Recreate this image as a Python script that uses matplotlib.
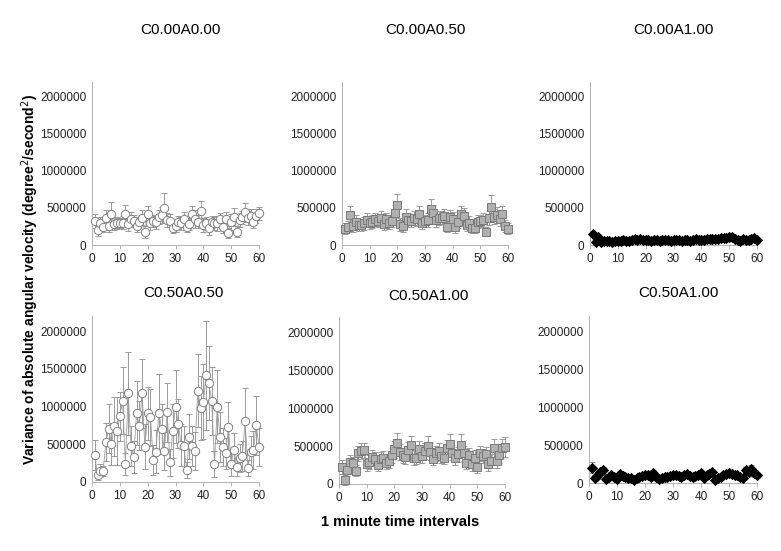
import numpy as np
import matplotlib
matplotlib.use("Agg")
from matplotlib import pyplot as plt

plt.rcParams['font.family'] = ['Liberation Sans', 'DejaVu Sans']

# === DATA ===
MINUTES = list(range(1, 61))

TITLES = ["C0.00A0.00", "C0.00A0.50", "C0.00A1.00",
          "C0.50A0.50", "C0.50A1.00", "C0.50A1.00"]

c00a00 = [324e3, 203e3, 293e3, 248e3, 369e3, 261e3, 419e3, 284e3, 293e3, 293e3,
          302e3, 414e3, 284e3, 347e3, 329e3, 261e3, 306e3, 369e3, 176e3, 414e3,
          293e3, 329e3, 306e3, 383e3, 405e3, 495e3, 338e3, 329e3, 234e3, 261e3,
          306e3, 293e3, 347e3, 248e3, 279e3, 414e3, 347e3, 315e3, 464e3, 270e3,
          293e3, 225e3, 315e3, 293e3, 293e3, 347e3, 248e3, 351e3, 158e3, 315e3,
          383e3, 180e3, 338e3, 374e3, 441e3, 360e3, 392e3, 315e3, 392e3, 428e3]
c00a00_err = [95e3, 80e3, 90e3, 70e3, 110e3, 85e3, 166e3, 75e3, 80e3, 70e3,
              85e3, 126e3, 90e3, 95e3, 80e3, 85e3, 70e3, 100e3, 75e3, 110e3,
              90e3, 80e3, 85e3, 95e3, 110e3, 203e3, 90e3, 85e3, 75e3, 80e3,
              90e3, 85e3, 100e3, 75e3, 80e3, 110e3, 120e3, 90e3, 130e3, 95e3,
              85e3, 90e3, 80e3, 85e3, 100e3, 90e3, 80e3, 100e3, 70e3, 110e3,
              120e3, 70e3, 95e3, 90e3, 131e3, 95e3, 100e3, 90e3, 95e3, 85e3]

c00a05 = [221e3, 248e3, 403e3, 257e3, 314e3, 265e3, 265e3, 292e3, 336e3, 301e3,
          314e3, 345e3, 323e3, 358e3, 279e3, 345e3, 301e3, 323e3, 434e3, 544e3,
          279e3, 257e3, 376e3, 336e3, 323e3, 367e3, 345e3, 420e3, 292e3, 323e3,
          336e3, 487e3, 434e3, 332e3, 367e3, 367e3, 389e3, 248e3, 381e3, 354e3,
          243e3, 314e3, 420e3, 389e3, 265e3, 301e3, 235e3, 226e3, 314e3, 323e3,
          336e3, 181e3, 367e3, 509e3, 381e3, 403e3, 354e3, 412e3, 257e3, 221e3]
c00a05_err = [70e3, 75e3, 130e3, 80e3, 90e3, 75e3, 80e3, 85e3, 95e3, 80e3,
              85e3, 90e3, 80e3, 95e3, 75e3, 90e3, 85e3, 80e3, 110e3, 150e3,
              85e3, 75e3, 110e3, 90e3, 85e3, 95e3, 90e3, 110e3, 80e3, 85e3,
              90e3, 130e3, 100e3, 85e3, 95e3, 90e3, 100e3, 75e3, 95e3, 90e3,
              80e3, 85e3, 100e3, 110e3, 80e3, 85e3, 75e3, 70e3, 85e3, 80e3,
              90e3, 65e3, 95e3, 160e3, 100e3, 110e3, 95e3, 110e3, 80e3, 70e3]

c00a10 = [144e3, 45e3, 113e3, 45e3, 55e3, 50e3, 60e3, 45e3, 55e3, 60e3,
          55e3, 65e3, 55e3, 60e3, 65e3, 75e3, 70e3, 81e3, 70e3, 65e3,
          70e3, 60e3, 65e3, 70e3, 60e3, 65e3, 70e3, 65e3, 60e3, 65e3,
          70e3, 65e3, 60e3, 70e3, 65e3, 60e3, 70e3, 75e3, 70e3, 65e3,
          70e3, 75e3, 80e3, 85e3, 75e3, 80e3, 90e3, 95e3, 100e3, 113e3,
          105e3, 85e3, 70e3, 60e3, 75e3, 70e3, 65e3, 80e3, 90e3, 68e3]
c00a10_err = [35e3, 20e3, 30e3, 15e3, 18e3, 15e3, 18e3, 15e3, 18e3, 20e3,
              18e3, 20e3, 18e3, 20e3, 20e3, 22e3, 20e3, 25e3, 20e3, 20e3,
              22e3, 18e3, 20e3, 22e3, 18e3, 20e3, 22e3, 20e3, 18e3, 20e3,
              22e3, 20e3, 18e3, 22e3, 20e3, 18e3, 22e3, 24e3, 22e3, 20e3,
              22e3, 24e3, 25e3, 28e3, 24e3, 25e3, 28e3, 30e3, 32e3, 40e3,
              35e3, 28e3, 22e3, 20e3, 24e3, 22e3, 20e3, 25e3, 28e3, 22e3]

c05a05 = [357e3, 87e3, 152e3, 143e3, 530e3, 709e3, 500e3, 739e3, 674e3, 870e3,
          1078e3, 239e3, 1174e3, 478e3, 335e3, 913e3, 748e3, 1174e3, 470e3, 913e3,
          857e3, 296e3, 404e3, 913e3, 704e3, 413e3, 922e3, 261e3, 674e3, 1000e3,
          774e3, 491e3, 478e3, 161e3, 600e3, 478e3, 413e3, 1209e3, 983e3, 1065e3,
          1413e3, 1313e3, 1074e3, 239e3, 1000e3, 600e3, 465e3, 378e3, 726e3, 239e3,
          422e3, 204e3, 317e3, 348e3, 804e3, 187e3, 391e3, 422e3, 752e3, 465e3]
c05a05_err = [200e3, 60e3, 80e3, 70e3, 250e3, 320e3, 280e3, 390e3, 450e3, 325e3,
              440e3, 150e3, 550e3, 260e3, 210e3, 420e3, 330e3, 460e3, 300e3, 350e3,
              380e3, 200e3, 280e3, 520e3, 330e3, 250e3, 390e3, 180e3, 360e3, 485e3,
              330e3, 280e3, 260e3, 110e3, 300e3, 260e3, 250e3, 485e3, 420e3, 500e3,
              725e3, 490e3, 455e3, 170e3, 480e3, 330e3, 250e3, 200e3, 330e3, 160e3,
              230e3, 120e3, 190e3, 200e3, 440e3, 110e3, 220e3, 250e3, 390e3, 250e3]

c05a10 = [226e3, 52e3, 183e3, 296e3, 274e3, 174e3, 404e3, 435e3, 443e3, 261e3,
          291e3, 357e3, 335e3, 252e3, 326e3, 339e3, 283e3, 304e3, 378e3, 457e3,
          535e3, 422e3, 378e3, 357e3, 443e3, 517e3, 348e3, 348e3, 457e3, 370e3,
          435e3, 500e3, 426e3, 335e3, 404e3, 435e3, 370e3, 348e3, 470e3, 522e3,
          413e3, 339e3, 391e3, 513e3, 404e3, 283e3, 378e3, 261e3, 348e3, 230e3,
          404e3, 370e3, 391e3, 261e3, 304e3, 478e3, 304e3, 383e3, 478e3, 487e3]
c05a10_err = [90e3, 60e3, 80e3, 90e3, 85e3, 70e3, 100e3, 110e3, 100e3, 85e3,
              90e3, 95e3, 90e3, 80e3, 95e3, 100e3, 85e3, 90e3, 95e3, 110e3,
              140e3, 100e3, 95e3, 90e3, 110e3, 120e3, 95e3, 90e3, 110e3, 95e3,
              105e3, 130e3, 110e3, 90e3, 100e3, 110e3, 95e3, 90e3, 110e3, 140e3,
              100e3, 90e3, 95e3, 150e3, 100e3, 85e3, 100e3, 85e3, 95e3, 80e3,
              100e3, 95e3, 100e3, 85e3, 90e3, 120e3, 90e3, 100e3, 120e3, 130e3]

c05a10b = [200e3, 70e3, 91e3, 143e3, 165e3, 57e3, 78e3, 109e3, 78e3, 57e3,
           122e3, 91e3, 78e3, 65e3, 70e3, 43e3, 60e3, 75e3, 95e3, 109e3,
           100e3, 85e3, 130e3, 80e3, 57e3, 65e3, 75e3, 85e3, 95e3, 109e3,
           100e3, 90e3, 85e3, 100e3, 122e3, 95e3, 80e3, 90e3, 110e3, 130e3,
           65e3, 100e3, 122e3, 143e3, 43e3, 70e3, 85e3, 100e3, 115e3, 130e3,
           120e3, 105e3, 100e3, 85e3, 70e3, 165e3, 143e3, 178e3, 130e3, 100e3]
c05a10b_err = [74e3, 30e3, 35e3, 40e3, 45e3, 25e3, 30e3, 35e3, 30e3, 25e3,
               40e3, 30e3, 30e3, 25e3, 28e3, 20e3, 25e3, 28e3, 32e3, 38e3,
               35e3, 30e3, 42e3, 30e3, 25e3, 25e3, 28e3, 30e3, 32e3, 38e3,
               35e3, 32e3, 30e3, 35e3, 40e3, 32e3, 30e3, 32e3, 38e3, 45e3,
               25e3, 35e3, 40e3, 45e3, 20e3, 28e3, 30e3, 35e3, 38e3, 45e3,
               40e3, 35e3, 35e3, 30e3, 28e3, 50e3, 45e3, 55e3, 45e3, 35e3]

SERIES = [(c00a00, c00a00_err), (c00a05, c00a05_err), (c00a10, c00a10_err),
          (c05a05, c05a05_err), (c05a10, c05a10_err), (c05a10b, c05a10b_err)]

Y_TICKS = [0, 500000, 1000000, 1500000, 2000000]
X_TICKS = [0, 10, 20, 30, 40, 50, 60]

# === STYLE ===
W, H = 781, 551
# axes rectangles in pixels: left, right, bottom, top
RECTS = [(92, 259, 245, 82), (342, 508, 245, 82), (590, 757, 245, 82),
         (92, 259, 482, 316), (339, 505, 484, 317), (589, 757, 483, 316)]
TITLE_POS = [(180, 30), (425, 30), (673, 30), (183, 293), (428, 296), (678, 293)]
MARKERS = [
    dict(marker='o', mfc='white', mec='#808080', ms=6),
    dict(marker='s', mfc='#b0b0b0', mec='#7a7a7a', ms=5.5),
    dict(marker='D', mfc='black', mec='black', ms=5),
    dict(marker='o', mfc='white', mec='#808080', ms=6),
    dict(marker='s', mfc='#b0b0b0', mec='#7a7a7a', ms=5.5),
    dict(marker='D', mfc='black', mec='black', ms=5),
]

fig = plt.figure(figsize=(W / 100, H / 100), dpi=100)

for i in range(6):
    l, r, b, t = RECTS[i]
    ax = fig.add_axes([l / W, 1 - b / H, (r - l) / W, (b - t) / H])
    vals, errs = SERIES[i]
    ax.errorbar(MINUTES, vals, yerr=errs, fmt='none', ecolor='#9a9a9a',
                elinewidth=0.7, capsize=2.5, capthick=0.7, clip_on=False, zorder=2)
    ax.plot(MINUTES, vals, color='#9a9a9a', lw=0.6, zorder=3, clip_on=False)
    ax.plot(MINUTES, vals, linestyle='none', mew=0.7, zorder=4, clip_on=False,
            **MARKERS[i])
    ax.set_xlim(0, 60)
    ax.set_ylim(0, 2200000)
    ax.set_xticks(X_TICKS)
    ax.set_yticks(Y_TICKS)
    ax.set_yticklabels([str(v) for v in Y_TICKS])
    ax.tick_params(axis='x', length=3, width=0.6, color='#aaaaaa',
                   labelsize=8.5, labelcolor='#222222', pad=3)
    ax.tick_params(axis='y', length=0, labelsize=8.5, labelcolor='#222222', pad=4)
    for s in ['top', 'right']:
        ax.spines[s].set_visible(False)
    for s in ['left', 'bottom']:
        ax.spines[s].set_color('#b0b0b0')
        ax.spines[s].set_linewidth(0.7)
    ax.patch.set_alpha(0)
    tx, ty = TITLE_POS[i]
    fig.text(tx / W, 1 - ty / H, TITLES[i], ha='center', va='center', fontsize=11)

fig.text(30 / W, 1 - 280 / H,
         "Variance of absolute angular velocity (degree$^{2}$/second$^{2}$)",
         rotation=90, ha='center', va='center', fontsize=10, fontweight='bold')
fig.text(400 / W, 1 - 522 / H, "1 minute time intervals",
         ha='center', va='center', fontsize=10.5, fontweight='bold')

fig.savefig("out.png", dpi=100)
